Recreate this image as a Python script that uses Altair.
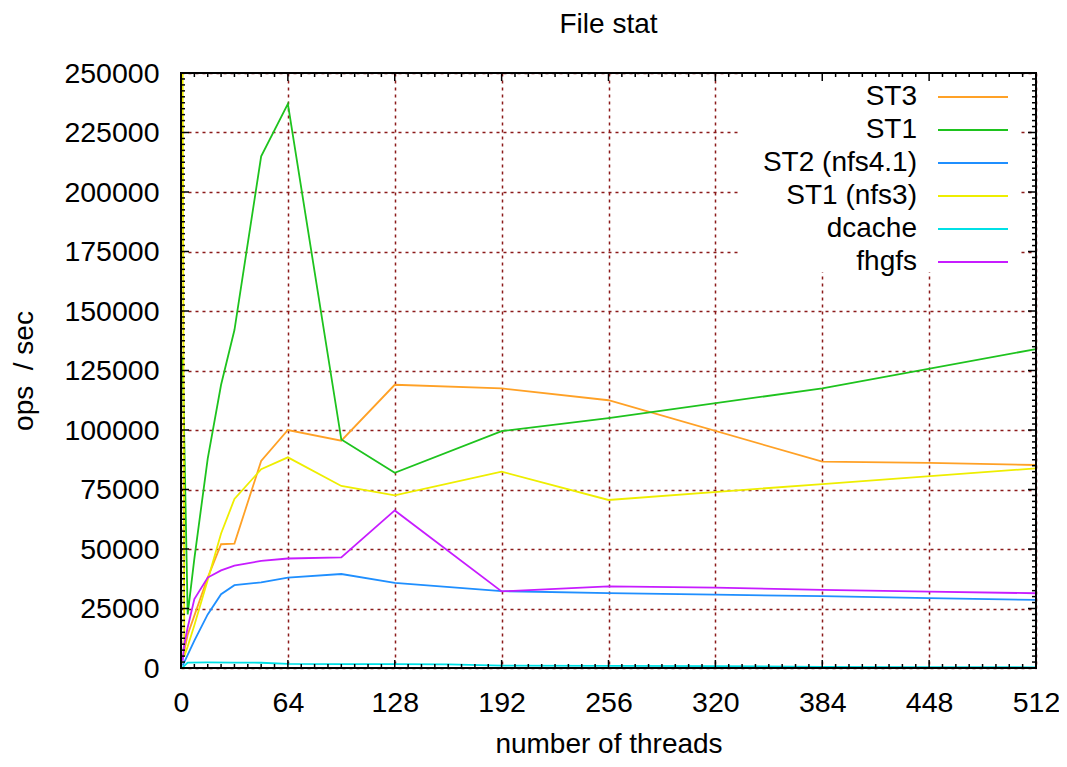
import altair as alt
import pandas as pd

series = ["ST3", "ST1", "ST2 (nfs4.1)", "ST1 (nfs3)", "dcache", "fhgfs"]
colors = ["#ffa126", "#1ec31e", "#1f8fff", "#eeee00", "#00e0e6", "#c71cff"]

st3_x = [1, 4, 8, 16, 24, 32, 48, 64, 96, 128, 192, 256, 384, 448, 512]
st3_y = [4000, 14000, 22000, 38000, 52000, 52300, 87000, 100000, 95500, 119000, 117500, 112500, 86700, 86200, 85300]

st1_x = [1, 4, 8, 16, 24, 32, 48, 64, 96, 128, 192, 256, 384, 512]
st1_y = [131000, 22500, 46000, 88000, 119000, 142000, 215000, 237000, 96000, 82000, 99500, 105000, 117500, 134000]

st2_x = [1, 4, 8, 16, 24, 32, 48, 64, 96, 128, 192, 256, 320, 384, 448, 512]
st2_y = [1000, 5500, 11500, 22500, 31000, 34800, 36000, 38000, 39500, 35800, 32300, 31500, 30800, 30200, 29400, 28600]

nfs3_x = [1, 2, 4, 8, 16, 24, 32, 48, 64, 96, 128, 192, 256, 384, 512]
nfs3_y = [320000, 5000, 9000, 18000, 37000, 56500, 71000, 83500, 88500, 76500, 72500, 82500, 70600, 77300, 83900]

dcache_x = [1, 4, 16, 32, 48, 64, 96, 128, 160, 192, 256, 320, 384, 448, 512]
dcache_y = [300, 2300, 2400, 2300, 2200, 1700, 1600, 1600, 1500, 1000, 900, 800, 500, 400, 300]

fhgfs_x = [1, 2, 4, 8, 16, 24, 32, 48, 64, 96, 128, 192, 256, 320, 384, 448, 512]
fhgfs_y = [3000, 10000, 17000, 29000, 38000, 41000, 43000, 45000, 46000, 46500, 66200, 32200, 34300, 33800, 32800, 32100, 31400]

x_major = [0, 64, 128, 192, 256, 320, 384, 448, 512]
x_minor = [v for v in range(0, 513, 8) if v % 64 != 0]
y_major = [0, 25000, 50000, 75000, 100000, 125000, 150000, 175000, 200000, 225000, 250000]
y_minor = [v for v in range(0, 250001, 2500) if v % 25000 != 0]

rows = []
for name, xs, ys in [
    ("ST3", st3_x, st3_y),
    ("ST1", st1_x, st1_y),
    ("ST2 (nfs4.1)", st2_x, st2_y),
    ("ST1 (nfs3)", nfs3_x, nfs3_y),
    ("dcache", dcache_x, dcache_y),
    ("fhgfs", fhgfs_x, fhgfs_y),
]:
    for x, y in zip(xs, ys):
        rows.append({"series": name, "threads": x, "ops": y})
df = pd.DataFrame(rows)

FONT = "Liberation Sans"
LFS = 28.5
TFS = 28
W, H = 855, 595
GRID = "#8b1a1a"
LW = 1.8

xscale = alt.Scale(domain=[0, 512], nice=False, zero=False)
yscale = alt.Scale(domain=[0, 250000], nice=False, clamp=True)
cscale = alt.Scale(domain=series, range=colors)

x_axis = alt.Axis(
    values=x_major, title="number of threads", grid=True, gridColor=GRID,
    gridDash=[3, 4], gridWidth=1.5, ticks=False, tickSize=0, domain=False,
    labelPadding=20, labelFont=FONT, labelFontSize=LFS, labelColor="black",
    labelFlush=False, labelOverlap=False, titleFont=FONT, titleFontSize=TFS,
    titleFontWeight="normal", titleColor="black", titleX=W / 2, titleY=76,
    titleBaseline="middle", titleAlign="center", format="d",
)
y_axis = alt.Axis(
    values=y_major, title="ops \u00a0/ sec", grid=True, gridColor=GRID,
    gridDash=[3, 4], gridWidth=1.5, ticks=False, tickSize=0, domain=False,
    labelPadding=22, labelFont=FONT, labelFontSize=LFS, labelColor="black",
    labelFlush=False, labelOverlap=False, titleFont=FONT, titleFontSize=TFS,
    titleFontWeight="normal", titleColor="black", titleX=-157, titleY=H / 2,
    titleBaseline="middle", titleAlign="center", titleAngle=270, format="d",
)

# ---- data lines ----
lines = alt.Chart(df).mark_line(clip=True, strokeWidth=LW).encode(
    x=alt.X("threads:Q", scale=xscale, axis=x_axis),
    y=alt.Y("ops:Q", scale=yscale, axis=y_axis),
    color=alt.Color("series:N", scale=cscale, sort=series, legend=None),
    order="threads:Q",
)

# ---- gnuplot-style key (text right-aligned, sample line to its right) ----
leg_df = pd.DataFrame({"series": series})
leg_y = alt.Y("series:N", sort=series, axis=None,
              scale=alt.Scale(type="point", range=[24, 189], padding=0))
key_bg = alt.Chart(pd.DataFrame({"k": [0]})).mark_rect(color="white").encode(
    x=alt.value(557), x2=alt.value(839), y=alt.value(0), y2=alt.value(199)
)
key_text = alt.Chart(leg_df).mark_text(
    align="right", baseline="middle", font=FONT, fontSize=TFS, color="black"
).encode(x=alt.value(736), y=leg_y, text="series:N")
key_line = alt.Chart(leg_df).mark_rule(strokeWidth=LW).encode(
    x=alt.value(757), x2=alt.value(827), y=leg_y,
    color=alt.Color("series:N", scale=cscale, legend=None),
)
key = alt.layer(key_bg, key_text, key_line)

# ---- inward ticks on all four sides + frame ----
dx_major = pd.DataFrame({"threads": x_major})
dx_minor = pd.DataFrame({"threads": x_minor})
dy_major = pd.DataFrame({"ops": y_major})
dy_minor = pd.DataFrame({"ops": y_minor})


def xticks(d, at, off):
    return alt.Chart(d).mark_rule(color="black", strokeWidth=1.5, y2Offset=off).encode(
        x=alt.X("threads:Q", scale=xscale),
        y=alt.YDatum(at, scale=yscale, axis=None),
        y2=alt.datum(at),
    )


def yticks(d, at, off):
    return alt.Chart(d).mark_rule(color="black", strokeWidth=1.5, x2Offset=off).encode(
        y=alt.Y("ops:Q", scale=yscale, axis=None),
        x=alt.XDatum(at, scale=xscale),
        x2=alt.datum(at),
    )


frame = alt.Chart(dx_major).mark_rect(fillOpacity=0, stroke="black", strokeWidth=2).encode(
    x=alt.XDatum(0, scale=xscale), x2=alt.datum(512),
    y=alt.YDatum(0, scale=yscale, axis=None), y2=alt.datum(250000),
)

ticks = alt.layer(
    xticks(dx_major, 0, -8), xticks(dx_minor, 0, -4),
    xticks(dx_major, 250000, 8), xticks(dx_minor, 250000, 4),
    yticks(dy_major, 0, 8), yticks(dy_minor, 0, 4),
    yticks(dy_major, 512, -8), yticks(dy_minor, 512, -4),
    frame,
)

chart = alt.layer(lines, key, ticks).resolve_scale(y="independent").properties(
    width=W, height=H,
    title=alt.TitleParams("File stat", font=FONT, fontSize=TFS, fontWeight="normal",
                          color="black", anchor="middle", frame="group",
                          baseline="top", offset=20),
    autosize=alt.AutoSizeParams(type="none"),
    padding={"left": 173, "top": 65, "right": 23, "bottom": 90},
).configure_view(stroke=None)

chart.save("out.html", embed_options={"renderer": "svg", "actions": False})
